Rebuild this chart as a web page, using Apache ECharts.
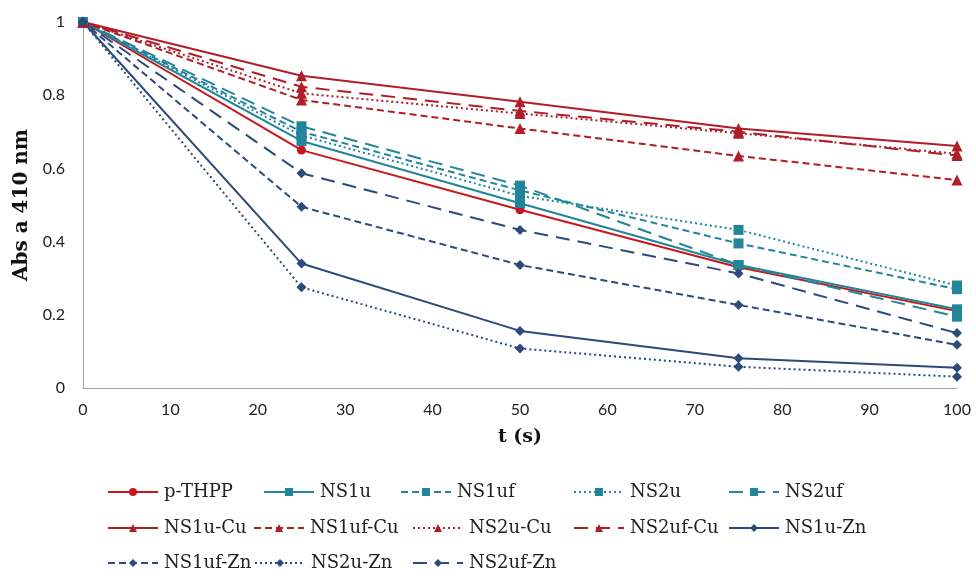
<!DOCTYPE html>
<html><head><meta charset="utf-8">
<script src="https://cdn.jsdelivr.net/npm/echarts@6/dist/echarts.min.js"></script>
<style>html,body{margin:0;padding:0;background:#fff}#c{width:976px;height:578px}</style>
</head><body><div id="c"></div>
<script>
var times = [0, 25, 50, 75, 100];
var pTHPP   = [1, 0.650, 0.487, 0.330, 0.210];
var NS1u    = [1, 0.675, 0.505, 0.336, 0.215];
var NS1uf   = [1, 0.700, 0.540, 0.395, 0.270];
var NS2u    = [1, 0.690, 0.525, 0.432, 0.280];
var NS2uf   = [1, 0.715, 0.553, 0.336, 0.195];
var NS1uCu  = [1, 0.853, 0.782, 0.709, 0.661];
var NS1ufCu = [1, 0.787, 0.709, 0.634, 0.568];
var NS2uCu  = [1, 0.805, 0.750, 0.696, 0.640];
var NS2ufCu = [1, 0.823, 0.757, 0.700, 0.635];
var NS1uZn  = [1, 0.340, 0.156, 0.081, 0.055];
var NS1ufZn = [1, 0.495, 0.336, 0.227, 0.118];
var NS2uZn  = [1, 0.275, 0.108, 0.058, 0.031];
var NS2ufZn = [1, 0.587, 0.432, 0.313, 0.150];
var xTicks = [0, 10, 20, 30, 40, 50, 60, 70, 80, 90, 100];
var yTicks = [0, 0.2, 0.4, 0.6, 0.8, 1];

var RED = '#C8161E', DRED = '#B01E2A', TEAL = '#22859A', NAVY = '#2C4A7A';
var DASH = [7, 4], LDASH = [14, 8], DOT = [2, 3];
var SIZES = {circle:9, rect:10, triangle:11, diamond:10};
var defs = [
  {name:'p-THPP', d:pTHPP, c:RED, t:'solid', s:'circle'},
  {name:'NS1u', d:NS1u, c:TEAL, t:'solid', s:'rect'},
  {name:'NS1uf', d:NS1uf, c:TEAL, t:DASH, s:'rect'},
  {name:'NS2u', d:NS2u, c:TEAL, t:DOT, s:'rect'},
  {name:'NS2uf', d:NS2uf, c:TEAL, t:LDASH, s:'rect'},
  {name:'NS1u-Cu', d:NS1uCu, c:DRED, t:'solid', s:'triangle'},
  {name:'NS1uf-Cu', d:NS1ufCu, c:DRED, t:DASH, s:'triangle'},
  {name:'NS2u-Cu', d:NS2uCu, c:DRED, t:DOT, s:'triangle'},
  {name:'NS2uf-Cu', d:NS2ufCu, c:DRED, t:LDASH, s:'triangle'},
  {name:'NS1u-Zn', d:NS1uZn, c:NAVY, t:'solid', s:'diamond'},
  {name:'NS1uf-Zn', d:NS1ufZn, c:NAVY, t:DASH, s:'diamond'},
  {name:'NS2u-Zn', d:NS2uZn, c:NAVY, t:DOT, s:'diamond'},
  {name:'NS2uf-Zn', d:NS2ufZn, c:NAVY, t:LDASH, s:'diamond'}
];
// legend slots: [left, top]
var legendPos = [
  [107,483],[263,483],[400,483],[573,483],[728,483],
  [107,519],[253,519],[412,519],[573,519],[728,519],
  [107,554],[254,554],[412,554]
];
var series = defs.map(function(o){
  return {
    name:o.name, type:'line', animation:false,
    data: times.map(function(t,i){return [t,o.d[i]];}),
    symbol:o.s, symbolSize:SIZES[o.s], showSymbol:true,
    lineStyle:{color:o.c, width:2, type:o.t},
    itemStyle:{color:o.c},
    z:2
  };
});
var legends = defs.map(function(o,i){
  return {
    data:[o.name], left:legendPos[i][0], top:legendPos[i][1],
    itemWidth:50, itemHeight:10, itemGap:0, padding:0,
    selectedMode:false,
    textStyle:{fontFamily:'DejaVu Serif', fontSize:18, color:'#222', padding:[0,0,0,1]}
  };
});
var chart = echarts.init(document.getElementById('c'));
chart.setOption({
  backgroundColor:'#fff',
  animation:false,
  grid:{left:83, right:19, top:22, bottom:190},
  legend: legends,
  xAxis:{
    type:'value', min:0, max:100, interval:10,
    name:'t (s)', nameLocation:'middle', nameGap:40,
    nameTextStyle:{fontFamily:'DejaVu Serif', fontWeight:'bold', fontSize:19, color:'#111'},
    axisLine:{show:true, lineStyle:{color:'#A6A6A6', width:1}},
    axisTick:{show:false}, splitLine:{show:false},
    axisLabel:{fontFamily:'Lato', fontSize:16, color:'#222', margin:14,
      formatter:function(v){return xTicks.indexOf(v)>=0?String(v):'';}}
  },
  yAxis:{
    type:'value', min:0, max:1, interval:0.2,
    name:'Abs a 410 nm', nameLocation:'middle', nameGap:50, nameRotate:90,
    nameTextStyle:{fontFamily:'DejaVu Serif', fontWeight:'bold', fontSize:20, color:'#111'},
    axisLine:{show:true, lineStyle:{color:'#A6A6A6', width:1}},
    axisTick:{show:false}, splitLine:{show:false},
    axisLabel:{fontFamily:'Lato', fontSize:16, color:'#222', margin:18,
      formatter:function(v){
        for (var i=0;i<yTicks.length;i++){ if (Math.abs(yTicks[i]-v)<1e-9) return String(yTicks[i]); }
        return '';
      }}
  },
  series: series
});
</script></body></html>
